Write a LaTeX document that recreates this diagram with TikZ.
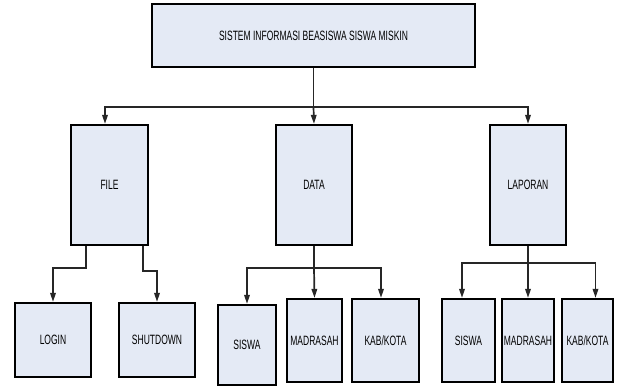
\documentclass[tikz,border=0pt]{standalone}
\usepackage{fontspec}
\newfontfamily\boxfont[FakeStretch=0.63]{Liberation Sans}
\usetikzlibrary{arrows.meta}
\definecolor{boxblue}{HTML}{E4EAF5}
\tikzstyle{box}=[rectangle,draw=black,fill=boxblue,line width=2.2pt,inner sep=0pt,font=\boxfont\fontsize{13.5}{15}\selectfont]
\tikzstyle{link}=[line width=1.7pt,black!85]
\tikzstyle{arr}=[link,-{Triangle[length=9pt,width=5.5pt]}]

\begin{document}
\begin{tikzpicture}[x=1pt,y=-1pt]
  \useasboundingbox (0,0) rectangle (618,387);
  \node at (313.5, 35.5) [box,minimum width=323,minimum height=63] (Sistem) {SISTEM INFORMASI BEASISWA SISWA MISKIN};
  \node at (109.5,185) [box,minimum width=77,minimum height=120] (File) {FILE};
  \node at (314,185) [box,minimum width=76,minimum height=120] (Data) {DATA};
  \node at (528,185) [box,minimum width=76,minimum height=120] (Laporan) {LAPORAN};
  \node at ( 53,340) [box,minimum width=76,minimum height=74] (Login) {LOGIN};
  \node at (157,340) [box,minimum width=76,minimum height=74] (Shutdown) {SHUTDOWN};
  \node at (247,345) [box,minimum width=58,minimum height=80] (SiswaA) {SISWA};
  \node at (314.5,340.5) [box,minimum width=55,minimum height=83] (MadrasahA) {MADRASAH};
  \node at (385.5,340.5) [box,minimum width=67,minimum height=83] (KabKotaA) {KAB/KOTA};
  \node at (468.5,340.5) [box,minimum width=53,minimum height=83] (SiswaB) {SISWA};
  \node at (528,340.5) [box,minimum width=52,minimum height=83] (MadrasahB) {MADRASAH};
  \node at (587.5,340.5) [box,minimum width=51,minimum height=83] (KabKotaB) {KAB/KOTA};
  % menu utama
  \coordinate (Bus) at (313.5,107);
  \draw [link] (Sistem.south) -- (Bus);
  \draw [arr] (Bus) -| ([xshift=-4.5pt]File.north);
  \draw [arr] (Bus) -- (Data.north);
  \draw [arr] (Bus) -| (Laporan.north);
  % file
  \draw [arr] ([xshift=-23.5pt]File.south) -- ++(0,22) -| (Login.north);
  \draw [arr] ([xshift=33.5pt]File.south) -- ++(0,25) -| (Shutdown.north);
  % data
  \draw [link] (Data.south) -- ++(0,22) coordinate (DataBus);
  \draw [arr] (DataBus) -| (SiswaA.north);
  \draw [arr] (DataBus) -- (MadrasahA.north);
  \draw [arr] (DataBus) -| ([xshift=-4.5pt]KabKotaA.north);
  % laporan
  \draw [link] (Laporan.south) -- ++(0,17) coordinate (LapBus);
  \draw [arr] (LapBus) -| ([xshift=-6.5pt]SiswaB.north);
  \draw [arr] (LapBus) -- (MadrasahB.north);
  \draw [arr] (LapBus) -| ([xshift=8pt]KabKotaB.north);
\end{tikzpicture}
\end{document}
